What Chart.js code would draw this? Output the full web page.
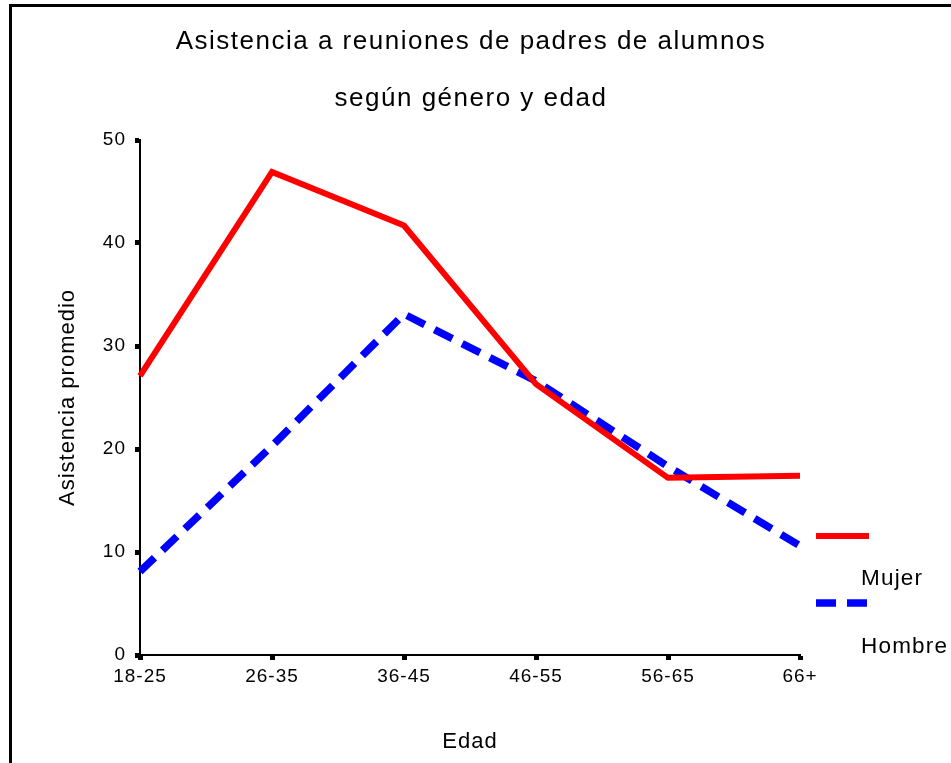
<!DOCTYPE html>
<html><head><meta charset="utf-8">
<script src="https://cdn.jsdelivr.net/npm/chart.js@4"></script>
<style>
html,body{margin:0;padding:0;background:#fff;overflow:hidden}
#wrap{position:relative;width:951px;height:763px;overflow:hidden}
#frame{position:absolute;left:9px;top:4px;width:980px;height:800px;border-left:3px solid #000;border-top:3px solid #000;pointer-events:none}
canvas{position:absolute;left:0;top:0}
</style></head><body>
<div id="wrap"><canvas id="c" width="951" height="763"></canvas><div id="frame"></div></div>
<script>
const categories = ['18-25', '26-35', '36-45', '46-55', '56-65', '66+'];
const mujer = [27.1, 46.9, 41.7, 26.3, 17.2, 17.4];
const hombre = [8.1, 20.3, 33.1, 26.6, 18.3, 10.6];
const yTicks = [0, 10, 20, 30, 40, 50];
const titleLines = ['Asistencia a reuniones de padres de alumnos', 'según género y edad'];
const seriesNames = ['Mujer', 'Hombre'];
const xTitle = 'Edad';
const yTitle = 'Asistencia promedio';

const FONT = '"Liberation Sans", Arial, Helvetica, sans-serif';

const decorPlugin = {
  id: 'decor',
  beforeDraw(chart) {
    chart.ctx.letterSpacing = '1px';
  },
  afterDraw(chart) {
    const ctx = chart.ctx;
    const area = chart.chartArea;
    ctx.save();
    // titles
    ctx.fillStyle = '#000';
    ctx.textAlign = 'center';
    ctx.textBaseline = 'alphabetic';
    ctx.font = '26px ' + FONT;
    ctx.letterSpacing = '1.5px';
    const cx = (area.left + area.right) / 2 + 1;
    ctx.fillText(titleLines[0], cx, 49);
    ctx.fillText(titleLines[1], cx, 106);
    // legend
    const ds = chart.data.datasets;
    const legY = [536, 603];
    const txtY = [585, 653];
    ds.forEach((d, i) => {
      ctx.beginPath();
      ctx.strokeStyle = d.borderColor;
      ctx.lineWidth = d.borderWidth;
      ctx.setLineDash(d.borderDash || []);
      ctx.lineCap = 'butt';
      ctx.moveTo(816, legY[i]);
      ctx.lineTo(869, legY[i]);
      ctx.stroke();
      ctx.setLineDash([]);
      ctx.font = '22.5px ' + FONT;
      ctx.letterSpacing = '1.2px';
      ctx.textAlign = 'left';
      ctx.fillStyle = '#000';
      ctx.fillText(d.label, 861, txtY[i]);
    });
    ctx.restore();
    ctx.letterSpacing = '0px';
  }
};

new Chart(document.getElementById('c'), {
  type: 'line',
  data: {
    labels: categories,
    datasets: [
      { label: seriesNames[0], data: mujer, borderColor: '#ff0000', backgroundColor: '#ff0000',
        borderWidth: 6, pointRadius: 0, tension: 0, fill: false },
      { label: seriesNames[1], data: hombre, borderColor: '#0000ff', backgroundColor: '#0000ff',
        borderWidth: 7.5, borderDash: [20, 11], pointRadius: 0, tension: 0, fill: false }
    ]
  },
  options: {
    responsive: false,
    animation: false,
    devicePixelRatio: 1,
    layout: { padding: { top: 140, right: 151, bottom: 0, left: 0 } },
    plugins: { legend: { display: false }, title: { display: false }, tooltip: { enabled: false } },
    scales: {
      x: {
        type: 'category',
        offset: false,
        grid: { display: true, drawOnChartArea: false, drawTicks: true, tickLength: 5, tickWidth: 5, tickColor: '#000' },
        border: { display: true, color: '#000', width: 2 },
        ticks: { color: '#000', font: { family: FONT, size: 19 }, padding: 5.6, maxRotation: 0, autoSkip: false },
        title: { display: true, text: xTitle, color: '#000', font: { family: FONT, size: 22 }, padding: { top: 0, bottom: 7.8 } },
        afterFit(s) { s.height = 108; }
      },
      y: {
        min: 0, max: 50,
        afterBuildTicks(s) { s.ticks = yTicks.map(v => ({ value: v })); },
        grid: { display: true, drawOnChartArea: false, drawTicks: true, tickLength: 5, tickWidth: 5, tickColor: '#000' },
        border: { display: true, color: '#000', width: 2 },
        ticks: { color: '#000', font: { family: FONT, size: 19 }, padding: 9 },
        title: { display: true, text: yTitle, color: '#000', font: { family: FONT, size: 22 }, padding: { top: 54.8, bottom: 0 } },
        afterFit(s) { s.width = 140; }
      }
    }
  },
  plugins: [decorPlugin]
});
</script>
</body></html>
